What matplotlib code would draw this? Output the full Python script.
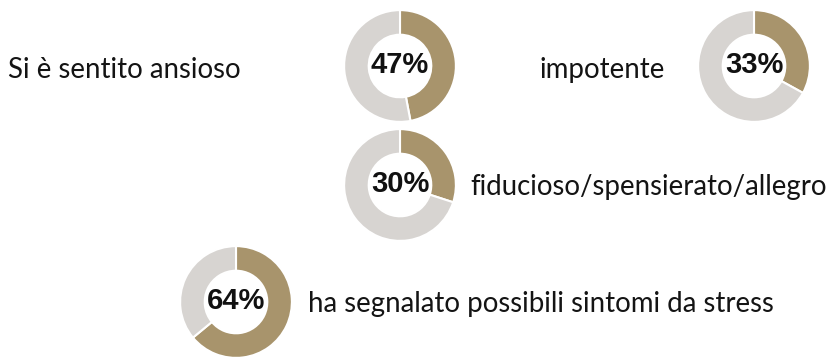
import matplotlib
matplotlib.use("Agg")
import matplotlib.pyplot as plt

# Data
labels = ["Si è sentito ansioso", "impotente", "fiducioso/spensierato/allegro",
          "ha segnalato possibili sintomi da stress"]
values = [47, 33, 30, 64]

W, H = 828, 360
fig = plt.figure(figsize=(W / 100, H / 100), dpi=100)
fig.patch.set_facecolor("white")

TAN = "#a8946c"
GREY = "#d7d4d1"

# layout (pixels): donut centre, radius; label position / alignment
donut_centres = [(400, 66), (754, 66), (400, 185), (236, 302)]
R = 57
label_pos = [(8, 70, "left"), (540, 70, "left"), (470, 187, "left"), (308, 304, "left")]

for (cx, cy), v in zip(donut_centres, values):
    ax = fig.add_axes([(cx - R) / W, (H - cy - R) / H, 2 * R / W, 2 * R / H])
    ax.pie([v, 100 - v], colors=[TAN, GREY], startangle=90, counterclock=False,
           radius=1, wedgeprops=dict(width=0.44, edgecolor="white", linewidth=1.5))
    ax.set_xlim(-1.02, 1.02)
    ax.set_ylim(-1.02, 1.02)
    ax.set_aspect("equal")
    ax.axis("off")
    ax.text(0, 0.02, f"{v}%", ha="center", va="center", fontsize=21, fontweight="bold",
            family="Liberation Sans", color="#111111")

for (x, y, ha), lab in zip(label_pos, labels):
    fig.text(x / W, 1 - y / H, lab, ha=ha, va="center", fontsize=19.9,
             family="Lato", color="#141414")

fig.savefig("out.png", dpi=100, facecolor="white")
